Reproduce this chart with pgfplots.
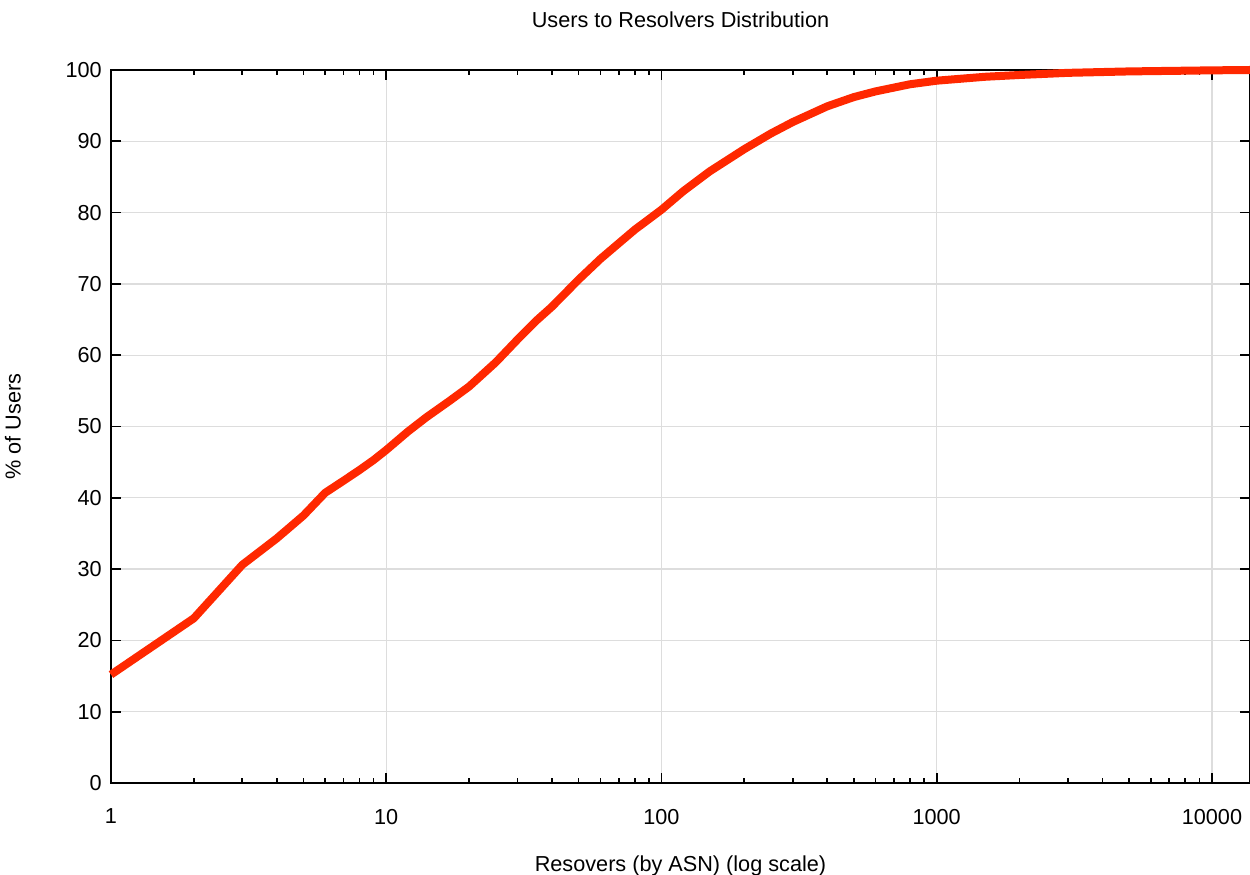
\documentclass[border=0pt]{standalone}
\usepackage{pgfplots}
\pgfplotsset{compat=1.18}
\usepackage{fontspec}
\setmainfont{Liberation Sans}
\definecolor{curve}{RGB}{255,40,0}
\definecolor{gridc}{RGB}{221,221,221}
\begin{document}
\begin{tikzpicture}[x=1pt,y=1pt]
\begin{axis}[
  scale only axis,
  width=683.4pt, height=427.8pt,
  xmode=log, log basis x=10,
  xmin=1, xmax=13750,
  ymin=0, ymax=100,
  ytick={0,10,...,100},
  xtick={1,10,100,1000,10000},
  xticklabels={1,10,100,1000,10000},
  minor xtick={2,3,4,5,6,7,8,9,20,30,40,50,60,70,80,90,200,300,400,500,600,700,800,900,2000,3000,4000,5000,6000,7000,8000,9000},
  /pgf/number format/assume math mode=true,
  tick label style={font=\fontsize{13}{15}\selectfont},
  label style={font=\fontsize{13}{15}\selectfont},
  title style={font=\fontsize{13}{15}\selectfont, at={(0.5,1)}, anchor=center, yshift=24pt},
  title={Users to Resolvers Distribution},
  xlabel={Resovers (by ASN) (log scale)},
  ylabel={\% of Users},
  xlabel style={at={(0.5,0)}, anchor=center, yshift=-49.8pt},
  ylabel style={yshift=20pt},
  grid=major,
  major grid style={gridc, line width=0.8pt},
  axis line style={black, line width=1.2pt},
  major tick length=6pt,
  minor tick length=3pt,
  every tick/.style={black, line width=1pt},
  tick align=inside,
  xticklabel style={yshift=-12pt},
  yticklabel style={xshift=-2pt},
  clip=false,
]
\addplot[curve, line width=4.8pt, line join=round] coordinates {
(1,15.2) (2,23.1) (3,30.6) (4,34.3) (5,37.5) (6,40.7) (7,42.4) (8,43.9) (9,45.3)
(10,46.7) (12,49.3) (14,51.3) (17,53.6) (20,55.6) (25,59.0) (30,62.2) (35,64.8)
(40,66.8) (50,70.6) (60,73.5) (70,75.7) (80,77.6) (100,80.4) (120,83.0) (150,85.8)
(200,88.9) (250,91.1) (300,92.7) (400,94.9) (500,96.2) (600,97.0) (800,98.0)
(1000,98.5) (1500,99.05) (2000,99.3) (3000,99.6) (5000,99.8) (10000,99.95) (13750,100)
};
\coordinate (bl) at (rel axis cs:0,0);
\coordinate (tr) at (rel axis cs:1,1);
\end{axis}
\pgfresetboundingbox
\path ([shift={(-66.6pt,-55.2pt)}]bl) rectangle ([shift={(0pt,42pt)}]tr);
\end{tikzpicture}
\end{document}
